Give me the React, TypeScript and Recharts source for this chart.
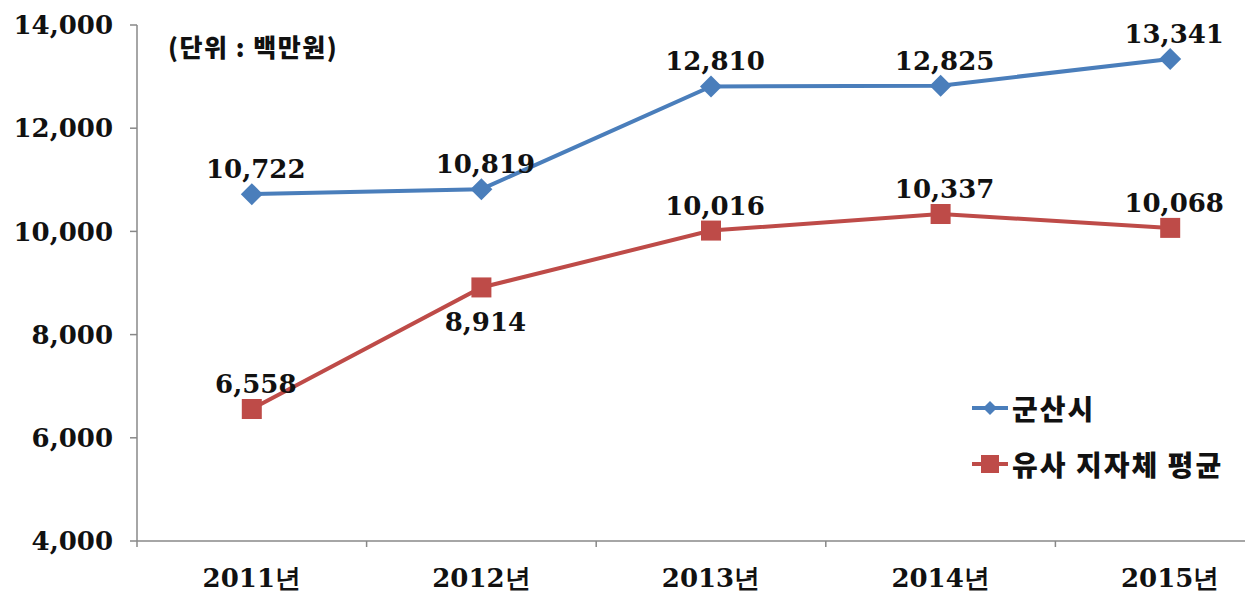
import { LineChart, Line, XAxis, YAxis } from 'recharts'

const years = ['2011년', '2012년', '2013년', '2014년', '2015년']
const gunsan = [10722, 10819, 12810, 12825, 13341]
const similarAvg = [6558, 8914, 10016, 10337, 10068]
const yTicks = [4000, 6000, 8000, 10000, 12000, 14000]

const BLUE = '#4a7ebb'
const RED = '#be4b48'
const SERIF = '"DejaVu Serif", serif'
const SANS = '"Noto Sans CJK KR", sans-serif'

// points sit in the middle of each year slot, ticks on the slot edges
const data = years.map((year, i) => ({
  x: i + 0.5,
  year,
  gunsan: gunsan[i],
  similar: similarAvg[i],
}))
const xTicks = years.flatMap((_, i) => [i, i + 0.5]).concat(years.length)

const fmt = (v: number) => v.toLocaleString('en-US')

const XTick = (props: any) => {
  const { x, y, payload } = props
  const v = payload.value as number
  if (Number.isInteger(v)) {
    return <line x1={x} x2={x} y1={y} y2={y + 6} stroke="#888" strokeWidth={1.5} />
  }
  return (
    <text x={x} y={y + 46} textAnchor="middle" fontFamily={SERIF} fontWeight="bold" fontSize={26} fill="#111">
      {years[v - 0.5]}
    </text>
  )
}

const Diamond = (props: any) => {
  const { cx, cy } = props
  if (cx == null || cy == null) return null
  const r = 11
  return <path d={`M${cx},${cy - r}L${cx + r},${cy}L${cx},${cy + r}L${cx - r},${cy}Z`} fill={BLUE} />
}

const Square = (props: any) => {
  const { cx, cy } = props
  if (cx == null || cy == null) return null
  const s = 10
  return <rect x={cx - s} y={cy - s} width={s * 2} height={s * 2} fill={RED} />
}

const makeLabel = (below: (i: number) => boolean) => (props: any) => {
  const { x, y, value, index } = props
  const dy = below(index) ? 44 : -16
  return (
    <text x={x + 4} y={y + dy} textAnchor="middle" fontFamily={SERIF} fontWeight="bold" fontSize={26} fill="#111">
      {fmt(value)}
    </text>
  )
}

const LegendBox = () => (
  <div style={{ fontFamily: SANS, fontWeight: 900, fontSize: 28, color: '#111', letterSpacing: 2, whiteSpace: 'nowrap' }}>
    <div style={{ display: 'flex', alignItems: 'center', height: 40 }}>
      <svg width={40} height={30} style={{ marginRight: 2 }}>
        <line x1={2} x2={38} y1={15} y2={15} stroke={BLUE} strokeWidth={4} />
        <path d="M20,8L27,15L20,22L13,15Z" fill={BLUE} />
      </svg>
      군산시
    </div>
    <div style={{ display: 'flex', alignItems: 'center', height: 40, marginTop: 16 }}>
      <svg width={40} height={30} style={{ marginRight: 2 }}>
        <line x1={2} x2={38} y1={15} y2={15} stroke={RED} strokeWidth={4} />
        <rect x={11} y={6} width={18} height={18} fill={RED} />
      </svg>
      유사 지자체 평균
    </div>
  </div>
)

export default function App() {
  return (
    <div style={{ position: 'absolute', left: 0, top: 0, width: 1245, height: 599, overflow: 'hidden', background: '#fff' }}>
      <LineChart width={1300} height={599} data={data} margin={{ top: 25, right: 15, left: 0, bottom: 0 }}>
        <XAxis
          dataKey="x"
          type="number"
          domain={[0, years.length]}
          ticks={xTicks}
          interval={0}
          tick={<XTick />}
          tickLine={false}
          tickSize={0}
          tickMargin={0}
          stroke="#888"
          strokeWidth={1.5}
          height={58}
        />
        <YAxis
          domain={[4000, 14000]}
          ticks={yTicks}
          interval={0}
          tickFormatter={fmt}
          width={137}
          tickSize={7}
          tickMargin={17}
          stroke="#888"
          strokeWidth={1.5}
          tick={{ fill: '#111', fontFamily: SERIF, fontWeight: 'bold', fontSize: 26 }}
        />
        <Line
          dataKey="gunsan"
          name="군산시"
          type="linear"
          stroke={BLUE}
          strokeWidth={4}
          dot={<Diamond />}
          activeDot={false}
          label={makeLabel(() => false)}
          isAnimationActive={false}
        />
        <Line
          dataKey="similar"
          name="유사 지자체 평균"
          type="linear"
          stroke={RED}
          strokeWidth={4}
          dot={<Square />}
          activeDot={false}
          label={makeLabel((i) => i === 1)}
          isAnimationActive={false}
        />
      </LineChart>
      <div style={{ position: 'absolute', left: 970, top: 388 }}>
        <LegendBox />
      </div>
      <div style={{ position: 'absolute', left: 168, top: 28, fontFamily: SANS, fontWeight: 900, fontSize: 25, letterSpacing: 1.5, color: '#111', whiteSpace: 'nowrap' }}>
        (단위 : 백만원)
      </div>
    </div>
  )
}
